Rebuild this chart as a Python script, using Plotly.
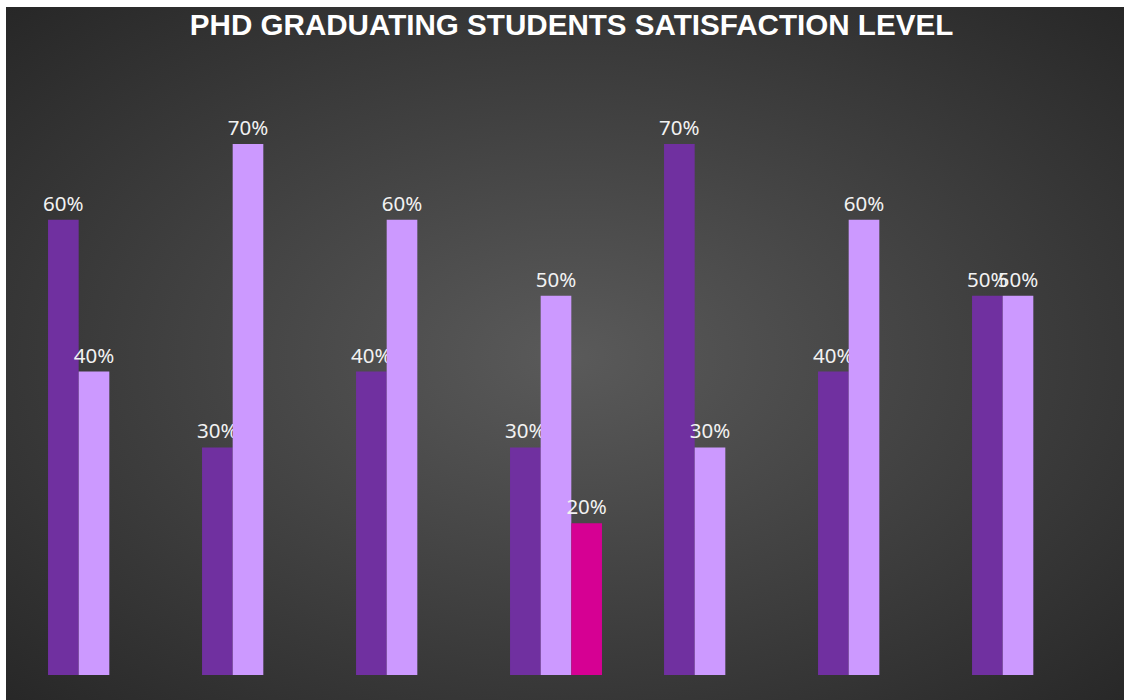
import base64
import plotly.graph_objects as go

categories = ["Q1", "Q2", "Q3", "Q4", "Q5", "Q6", "Q7"]
series_names = ["Very Satisfied", "Satisfied", "Not Satisfied"]
very_satisfied = [0.60, 0.30, 0.40, 0.30, 0.70, 0.40, 0.50]
satisfied = [0.40, 0.70, 0.60, 0.50, 0.30, 0.60, 0.50]
not_satisfied = [None, None, None, 0.20, None, None, None]
colors = ["#7030A0", "#CC99FF", "#D60093"]
title_text = "PHD GRADUATING STUDENTS SATISFACTION LEVEL"

W, H = 1124, 700
BX, BY = 6, 7  # white border of the picture on left / top

svg = (
    '<svg xmlns="http://www.w3.org/2000/svg" width="1118" height="693" preserveAspectRatio="none">'
    '<defs><radialGradient id="g" cx="50%" cy="50%" r="72%">'
    '<stop offset="0%" stop-color="#5a5a5a"/>'
    '<stop offset="100%" stop-color="#262626"/>'
    '</radialGradient></defs>'
    '<rect width="1118" height="693" fill="url(#g)"/></svg>'
)
bg_uri = "data:image/svg+xml;base64," + base64.b64encode(svg.encode()).decode()

fig = go.Figure()
for name, vals, col in zip(series_names, [very_satisfied, satisfied, not_satisfied], colors):
    fig.add_trace(go.Bar(
        x=categories, y=vals, name=name,
        marker=dict(color=col, line=dict(width=0)),
        texttemplate="%{y:.0%}", textposition="outside",
        textfont=dict(color="#F2F2F2", size=20.5, family="Noto Sans"),
        cliponaxis=False, constraintext="none",
    ))

def px_x(v):
    return v / W

def px_y(v):
    return 1 - v / H

fig.update_layout(
    width=W, height=H,
    margin=dict(l=0, r=0, t=0, b=0),
    paper_bgcolor="#272727",
    plot_bgcolor="rgba(0,0,0,0)",
    barmode="group", bargap=0.403, bargroupgap=0,
    showlegend=False,
    title=dict(text="<b>" + title_text + "</b>", x=px_x(571.5), y=px_y(25),
               xanchor="center", yanchor="middle",
               font=dict(family="Liberation Sans, Arial", size=29.6, color="white")),
    xaxis=dict(domain=[px_x(17), px_x(1095)], range=[-0.5, 6.5], showticklabels=False,
               showgrid=False, zeroline=False, showline=False, ticks=""),
    yaxis=dict(domain=[px_y(675), px_y(68)], range=[0, 0.8], showticklabels=False,
               showgrid=False, zeroline=False, showline=False, ticks=""),
    images=[dict(source=bg_uri, xref="paper", yref="paper", x=px_x(BX), y=px_y(BY),
                 sizex=(W - BX) / W + 0.01, sizey=(H - BY) / H + 0.01, sizing="stretch",
                 layer="below", xanchor="left", yanchor="top")],
    shapes=[
        dict(type="rect", xref="paper", yref="paper", x0=0, x1=1.01, y0=px_y(BY), y1=1.01,
             fillcolor="white", line=dict(width=0), layer="below"),
        dict(type="rect", xref="paper", yref="paper", x0=-0.01, x1=px_x(BX), y0=-0.01, y1=1.01,
             fillcolor="white", line=dict(width=0), layer="below"),
    ],
)

fig.write_html(
    "out.html",
    config={"displayModeBar": False},
    post_script="document.body.style.margin='0';document.body.style.overflow='hidden';"
                "document.documentElement.style.overflow='hidden';"
                "document.body.style.background='#262626';"
                "document.documentElement.style.background='#262626';",
)
